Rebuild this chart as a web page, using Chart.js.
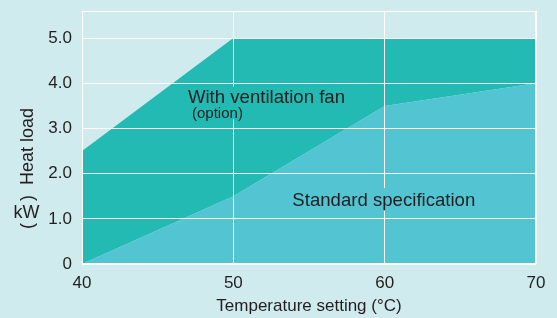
<!DOCTYPE html>
<html>
<head>
<meta charset="utf-8">
<script src="https://cdn.jsdelivr.net/npm/chart.js@4.4.0/dist/chart.umd.min.js"></script>
<style>
  html, body { margin: 0; padding: 0; background: #cfebee; }
  #wrap { width: 557px; height: 318px; }
</style>
</head>
<body>
<div id="wrap"><canvas id="heatChart" width="557" height="318"></canvas></div>
<script>
// Data
const temps = [40, 50, 60, 70];
const standardLoad = [0, 1.5, 3.5, 4.0];
const fanLoad = [2.5, 5.0, 5.0, 5.0];
const xTicks = [40, 50, 60, 70];
const yTicks = [0, 1, 2, 3, 4, 5];

const TEAL = '#22bab3';
const CYAN = '#52c4d2';
const INK = '#231f20';
const FONT = "'Liberation Sans', Arial, sans-serif";

// Text labels placed in data coordinates
const areaLabels = [
    { text: 'With ventilation fan', x: 47.0, y: 3.56, size: 18.6, bg: TEAL, box: [46.85, 3.2, 57.7, 3.93] },
    { text: '(option)', x: 47.27, y: 3.24, size: 15, bg: TEAL, box: null },
    { text: 'Standard specification', x: 53.9, y: 1.28, size: 18.6, bg: CYAN, box: [53.7, 1.17, 66.4, 1.68] }
];

const pts = (ys) => temps.map((t, i) => ({ x: t, y: ys[i] }));

const labelPlugin = {
    id: 'labels',
    afterDraw(chart) {
        const ctx = chart.ctx;
        const xs = chart.scales.x, ys = chart.scales.y;
        ctx.save();
        // boxes behind the texts hide the grid lines there
        areaLabels.forEach(l => {
            if (!l.box) return;
            const x0 = xs.getPixelForValue(l.box[0]), y0 = ys.getPixelForValue(l.box[3]);
            const x1 = xs.getPixelForValue(l.box[2]), y1 = ys.getPixelForValue(l.box[1]);
            ctx.fillStyle = l.bg;
            ctx.fillRect(x0, y0, x1 - x0, y1 - y0);
        });
        ctx.fillStyle = INK;
        ctx.textAlign = 'left';
        ctx.textBaseline = 'alphabetic';
        areaLabels.forEach(l => {
            ctx.font = l.size + 'px ' + FONT;
            ctx.fillText(l.text, xs.getPixelForValue(l.x), ys.getPixelForValue(l.y));
        });

        // y axis title: rotated "Heat load", upright "kW" between rotated brackets
        ctx.font = '18px ' + FONT;
        const rot = (txt, x, y) => {
            ctx.save();
            ctx.translate(x, y);
            ctx.rotate(-Math.PI / 2);
            ctx.textAlign = 'left';
            ctx.fillText(txt, 0, 0);
            ctx.restore();
        };
        rot('Heat load', 32.5, 185);
        rot(')', 32.5, 201);
        ctx.textAlign = 'center';
        ctx.fillText('kW', 26.5, 218);
        rot('(', 32.5, 229);

        // plot frame
        const a = chart.chartArea;
        ctx.strokeStyle = '#ffffff';
        ctx.lineWidth = 1;
        ctx.strokeRect(Math.round(a.left) + 0.5, Math.round(a.top) + 0.5,
                       Math.round(a.right - a.left) - 1, Math.round(a.bottom - a.top) - 1);
        ctx.restore();
    }
};

new Chart(document.getElementById('heatChart').getContext('2d'), {
    type: 'line',
    data: {
        datasets: [
            {
                label: 'Standard specification',
                data: pts(standardLoad),
                borderWidth: 0,
                borderColor: CYAN,
                backgroundColor: CYAN,
                pointRadius: 0,
                fill: 'origin',
                tension: 0
            },
            {
                label: 'With ventilation fan',
                data: pts(fanLoad),
                borderWidth: 0,
                borderColor: TEAL,
                backgroundColor: TEAL,
                pointRadius: 0,
                fill: '-1',
                tension: 0
            }
        ]
    },
    options: {
        responsive: false,
        animation: false,
        events: [],
        layout: { padding: { top: 11, right: 21, left: 0, bottom: 0 } },
        plugins: {
            legend: { display: false },
            tooltip: { enabled: false }
        },
        scales: {
            x: {
                type: 'linear',
                min: 40,
                max: 70,
                afterBuildTicks: axis => { axis.ticks = xTicks.map(v => ({ value: v })); },
                afterFit: axis => { axis.height = 54; axis.paddingLeft = 0; axis.paddingRight = 0; },
                grid: { color: '#ffffff', lineWidth: 1, drawTicks: false, z: 1 },
                border: { display: false },
                ticks: {
                    color: INK,
                    padding: 9,
                    maxRotation: 0,
                    font: { family: FONT, size: 17 }
                },
                title: {
                    display: true,
                    text: 'Temperature setting (°C)',
                    color: INK,
                    font: { family: FONT, size: 17 },
                    padding: { top: 0, bottom: 1 }
                }
            },
            y: {
                min: 0,
                max: 5.6,
                afterBuildTicks: axis => { axis.ticks = yTicks.map(v => ({ value: v })); },
                afterFit: axis => { axis.width = 82; axis.paddingTop = 0; axis.paddingBottom = 0; },
                grid: { color: '#ffffff', lineWidth: 1, drawTicks: false, z: 1 },
                border: { display: false },
                ticks: {
                    color: INK,
                    padding: 10,
                    font: { family: FONT, size: 17 },
                    callback: v => v === 0 ? '0' : v.toFixed(1)
                }
            }
        }
    },
    plugins: [labelPlugin]
});
</script>
</body>
</html>
